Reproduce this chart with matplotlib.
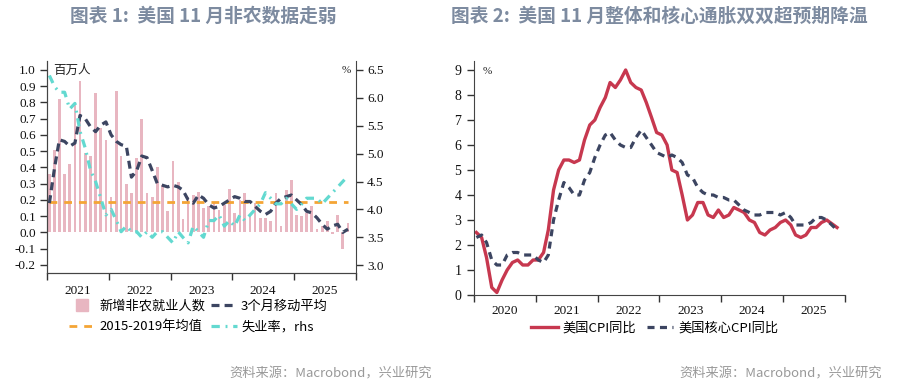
import numpy as np
import pandas as pd
import matplotlib
matplotlib.use("Agg")
import matplotlib.pyplot as plt
from matplotlib.lines import Line2D

plt.rcParams['font.family'] = ['Noto Sans CJK SC', 'DejaVu Sans']

# ---- chart 1: payrolls (million), Jan 2021 - Nov 2025
nfp_start = "2021-01-01"
payrolls = [0.36, 0.51, 0.82, 0.36, 0.42, 0.79, 0.93, 0.49, 0.47, 0.86, 0.64, 0.57,
            0.22, 0.87, 0.47, 0.30, 0.24, 0.46, 0.70, 0.24, 0.22, 0.40, 0.29, 0.13,
            0.44, 0.31, 0.08, 0.22, 0.23, 0.25, 0.15, 0.16, 0.19, 0.14, 0.17, 0.27,
            0.12, 0.20, 0.24, 0.10, 0.18, 0.09, 0.09, 0.07, 0.24, 0.04, 0.26, 0.32,
            0.11, 0.10, 0.12, 0.16, 0.02, 0.04, 0.07, -0.01, 0.11, -0.10, 0.06]
payrolls_ma3 = [0.18, 0.40, 0.57, 0.56, 0.53, 0.55, 0.72, 0.70, 0.65, 0.62, 0.66, 0.68,
                0.60, 0.56, 0.54, 0.53, 0.34, 0.38, 0.47, 0.46, 0.38, 0.30, 0.29, 0.28,
                0.29, 0.28, 0.26, 0.20, 0.18, 0.23, 0.21, 0.17, 0.15, 0.16, 0.18, 0.20,
                0.22, 0.21, 0.19, 0.19, 0.16, 0.13, 0.11, 0.13, 0.18, 0.21, 0.22, 0.23,
                0.20, 0.17, 0.13, 0.12, 0.09, 0.05, 0.02, 0.04, 0.05, 0.00, 0.02]
avg_2015_2019 = 0.19
unemployment = [6.4, 6.2, 6.1, 6.1, 5.8, 5.9, 5.4, 5.1, 4.7, 4.5, 4.2, 3.9,
                4.0, 3.8, 3.6, 3.7, 3.6, 3.6, 3.5, 3.6, 3.5, 3.6, 3.6, 3.5,
                3.4, 3.6, 3.5, 3.4, 3.7, 3.6, 3.5, 3.8, 3.8, 3.9, 3.7, 3.8,
                3.7, 3.9, 3.8, 3.9, 4.0, 4.1, 4.3, 4.2, 4.1, 4.1, 4.2, 4.1,
                4.0, 4.1, 4.2, 4.2, 4.2, 4.1, 4.2, 4.3, 4.4, 4.5, 4.6]

# ---- chart 2: CPI yoy %, Jan 2020 - Nov 2025 (Oct 2025 not published)
cpi_start = "2020-01-01"
cpi = [2.5, 2.3, 1.5, 0.3, 0.1, 0.6, 1.0, 1.3, 1.4, 1.2, 1.2, 1.4,
       1.4, 1.7, 2.6, 4.2, 5.0, 5.4, 5.4, 5.3, 5.4, 6.2, 6.8, 7.0,
       7.5, 7.9, 8.5, 8.3, 8.6, 9.0, 8.5, 8.3, 8.2, 7.7, 7.1, 6.5,
       6.4, 6.0, 5.0, 4.9, 4.0, 3.0, 3.2, 3.7, 3.7, 3.2, 3.1, 3.4,
       3.1, 3.2, 3.5, 3.4, 3.3, 3.0, 2.9, 2.5, 2.4, 2.6, 2.7, 2.9,
       3.0, 2.8, 2.4, 2.3, 2.4, 2.7, 2.7, 2.9, 3.0, np.nan, 2.7]
core_cpi = [2.3, 2.4, 2.1, 1.4, 1.2, 1.2, 1.6, 1.7, 1.7, 1.6, 1.6, 1.6,
            1.4, 1.3, 1.6, 3.0, 3.8, 4.5, 4.3, 4.0, 4.0, 4.6, 4.9, 5.5,
            6.0, 6.4, 6.5, 6.2, 6.0, 5.9, 5.9, 6.3, 6.6, 6.3, 6.0, 5.7,
            5.6, 5.5, 5.6, 5.5, 5.3, 4.8, 4.7, 4.3, 4.1, 4.0, 4.0, 3.9,
            3.9, 3.8, 3.8, 3.6, 3.4, 3.3, 3.2, 3.2, 3.3, 3.3, 3.3, 3.2,
            3.3, 3.1, 2.8, 2.8, 2.8, 2.9, 3.1, 3.1, 3.0, np.nan, 2.6]

pink = "#e8b6c1"
navy = "#3c4561"
orange = "#f4a535"
cyan = "#63d9d0"
red = "#c7384f"
title_color = "#7d8ba0"
serif = "Liberation Serif"

fig = plt.figure(figsize=(9.03, 3.84), dpi=100)


def year_axis(ax, first, last, pad):
    ax.set_xlim(pd.Timestamp(f"{first}-01-01"), pd.Timestamp(f"{last + 1}-01-01"))
    ax.set_xticks([pd.Timestamp(f"{y}-01-01") for y in range(first, last + 2)])
    ax.set_xticklabels([])
    ax.set_xticks([pd.Timestamp(f"{y}-07-01") for y in range(first, last + 1)], minor=True)
    ax.set_xticklabels([str(y) for y in range(first, last + 1)], minor=True)
    ax.tick_params(axis="x", which="major", length=5, width=1, color="#333")
    ax.tick_params(axis="x", which="minor", length=0, pad=pad, labelsize=9.5,
                   labelfontfamily=serif, labelcolor="#111")


# ---------------- left chart
ax1 = fig.add_axes([47 / 903, 111 / 384, 309 / 903, 212 / 384])
ax2 = ax1.twinx()
nfp_dates = pd.date_range(nfp_start, periods=len(payrolls), freq="MS") + pd.Timedelta(days=14)

ax1.bar(nfp_dates, payrolls, width=16, color=pink, zorder=1)
ax1.plot(nfp_dates, [avg_2015_2019] * len(nfp_dates), color=orange, lw=2.0,
         dashes=(2.8, 2.5), zorder=2)
ax1.plot(nfp_dates, payrolls_ma3, color=navy, lw=2.3, dashes=(2.5, 1.6), zorder=3)
ax2.plot(nfp_dates, unemployment, color=cyan, lw=2.3, dashes=(2.6, 1.8, 0.6, 1.8))

ax1.set_ylim(-0.25, 1.055)
ax1.set_yticks(np.arange(-0.2, 1.01, 0.1))
ax1.set_yticklabels([f"{v:.1f}" for v in np.arange(-0.2, 1.01, 0.1)])
ax2.set_ylim(2.86, 6.66)
ax2.set_yticks(np.arange(3.0, 6.51, 0.5))
ax2.set_yticklabels([f"{v:.1f}" for v in np.arange(3.0, 6.51, 0.5)])
year_axis(ax1, 2021, 2025, 9)

for ax in (ax1, ax2):
    ax.spines["top"].set_visible(False)
    for s in ax.spines.values():
        s.set_color("#444")
    ax.tick_params(axis="y", length=5, width=1, color="#333", labelsize=9.5,
                   labelfontfamily=serif, labelcolor="#111", pad=3)
ax1.spines["right"].set_visible(False)
ax1.text(0.02, 0.985, "百万人", transform=ax1.transAxes, fontsize=9, va="top", ha="left", color="#222")
ax2.text(0.97, 0.975, "%", transform=ax2.transAxes, fontsize=8, va="top", ha="center",
         color="#222", family=serif)

h1 = [Line2D([], [], marker="s", ls="none", color=pink, markersize=9),
      Line2D([], [], color=orange, lw=2.0, dashes=(2.8, 2.5)),
      Line2D([], [], color=navy, lw=2.3, dashes=(2.5, 1.6)),
      Line2D([], [], color=cyan, lw=2.3, dashes=(2.6, 1.8, 0.6, 1.8))]
l1 = ["新增非农就业人数", "2015-2019年均值", "3个月移动平均", "失业率，rhs"]
ax2.legend(h1, l1, ncol=2, loc="upper center", bbox_to_anchor=(0.49, -0.1), frameon=False,
           fontsize=9.5, handlelength=2.0, columnspacing=0.4, handletextpad=0.3,
           labelspacing=0.6, borderaxespad=0)

# ---------------- right chart
ax3 = fig.add_axes([474 / 903, 89 / 384, 371 / 903, 234 / 384])
cpi_dates = pd.date_range(cpi_start, periods=len(cpi), freq="MS") + pd.Timedelta(days=14)
cpi_arr = np.array(cpi)
core_arr = np.array(core_cpi)
ok = ~np.isnan(cpi_arr)
ax3.plot(cpi_dates[ok], cpi_arr[ok], color=red, lw=2.4, solid_joinstyle="round")
ok = ~np.isnan(core_arr)
ax3.plot(cpi_dates[ok], core_arr[ok], color=navy, lw=2.3, dashes=(2.2, 1.7))
ax3.set_ylim(0, 9.36)
ax3.set_yticks(range(0, 10))
year_axis(ax3, 2020, 2025, 7)
ax3.spines["top"].set_visible(False)
ax3.spines["right"].set_visible(False)
for s in ax3.spines.values():
    s.set_color("#444")
ax3.tick_params(axis="y", length=5, width=1, color="#333", labelsize=10,
                labelfontfamily=serif, labelcolor="#111", pad=4)
ax3.text(0.022, 0.975, "%", transform=ax3.transAxes, fontsize=8, va="top", ha="left",
         color="#222", family=serif)

h3 = [Line2D([], [], color=red, lw=2.4),
      Line2D([], [], color=navy, lw=2.3, dashes=(2.2, 1.7))]
ax3.legend(h3, ["美国CPI同比", "美国核心CPI同比"], ncol=2, loc="center",
           bbox_to_anchor=(0.488, -0.143), frameon=False, fontsize=9.5,
           handlelength=2.0, columnspacing=0.8, handletextpad=0.4, borderaxespad=0)

# ---------------- titles and sources
fig.text(203 / 903, 1 - 16 / 384, "图表 1:  美国 11 月非农数据走弱", ha="center", va="center",
         fontsize=13.5, fontweight="bold", color=title_color)
fig.text(659 / 903, 1 - 16 / 384, "图表 2:  美国 11 月整体和核心通胀双双超预期降温", ha="center",
         va="center", fontsize=13.5, fontweight="bold", color=title_color)
fig.text(432 / 903, 1 - 374 / 384, "资料来源：Macrobond，兴业研究", ha="right", va="center",
         fontsize=9.5, color="#999")
fig.text(882 / 903, 1 - 374 / 384, "资料来源：Macrobond，兴业研究", ha="right", va="center",
         fontsize=9.5, color="#999")

fig.savefig("out.png", dpi=100)
